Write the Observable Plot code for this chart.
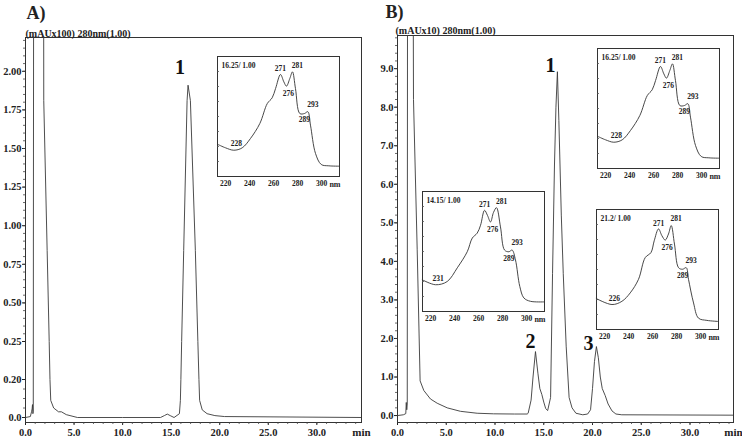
<!DOCTYPE html>
<html><head><meta charset="utf-8">
<script src="https://cdn.jsdelivr.net/npm/d3@7"></script>
<script src="https://cdn.jsdelivr.net/npm/@observablehq/plot@0.6"></script>
<style>
body{margin:0;background:#fff;}
#wrap{position:relative;width:742px;height:444px;overflow:hidden;background:#fff;}
</style></head><body><div id="wrap"></div>
<script>
// ---------- chromatogram A (mAU x100) ----------
const timeA = [0, 0.5, 0.62, 0.68, 0.72, 0.76, 0.8, 0.84, 1.86, 1.88, 2.23, 2.44, 2.52, 2.6, 2.9, 3.4, 3.7, 4.2, 5.35, 10, 13.9, 14.3, 14.6, 14.9, 15.3, 15.85, 15.95, 16.0, 16.08, 16.29, 16.64, 16.74, 16.98, 17.49, 17.75, 17.86, 17.93, 18.2, 18.7, 19.5, 20.5, 34.6];
const signalA = [0, 0.005, 0.03, 0.045, 0.068, 0.02, 0.03, 3, 3, 1.81, 0.84, 0.25, 0.2, 0.09, 0.05, 0.03, 0.03, 0.015, 0, 0, 0, 0.01, 0.018, 0.01, 0, 0.02, 0.09, 0.2, 0.25, 0.84, 1.81, 1.91, 1.81, 0.84, 0.25, 0.2, 0.09, 0.04, 0.02, 0.01, 0.005, 0];
const yTickValsA = [0, 0.2, 0.25, 0.5, 0.75, 1.0, 1.25, 1.5, 1.75, 2.0];
const yTickLabA = ["0.0", "0.20", "0.25", "0.50", "0.75", "1.00", "1.25", "1.50", "1.75", "2.00"];
const peakLabA = ["1"];
const peakIdxA = [31];

// ---------- chromatogram B (mAU x10) ----------
const timeB = [0, 0.6, 0.85, 0.9, 0.95, 1.0, 1.03, 1.6, 1.64, 2.02, 2.32, 2.7, 3.38, 4.07, 5.1, 6.46, 8.17, 9.85, 12.0, 13.3, 13.4, 13.7, 13.9, 14.15, 14.4, 14.6, 14.8, 15.0, 15.2, 15.4, 15.7, 15.9, 16.1, 16.25, 16.4, 16.55, 16.8, 17.0, 17.3, 17.6, 17.9, 18.3, 19.0, 19.5, 19.8, 20.0, 20.2, 20.4, 20.6, 20.8, 21.0, 21.3, 21.6, 22.0, 22.4, 23.0, 34.5];
const signalB = [0, 0.02, 0.05, 0.34, 0.15, 0.3, 12, 12, 8.2, 4.3, 0.9, 0.65, 0.43, 0.32, 0.2, 0.11, 0.06, 0.045, 0.04, 0.04, 0.06, 0.4, 1.0, 1.66, 1.1, 0.7, 0.55, 0.35, 0.18, 0.13, 0.47, 3.68, 6.5, 8.0, 8.92, 7.65, 5.2, 3.68, 1.8, 0.47, 0.2, 0.06, 0.02, 0.04, 0.15, 0.7, 1.4, 1.79, 1.5, 1.0, 0.7, 0.52, 0.3, 0.12, 0.04, 0.02, 0.01];
const yTickValsB = [0, 1, 2, 3, 4, 5, 6, 7, 8, 9];
const yTickLabB = ["0.0", "1.0", "2.0", "3.0", "4.0", "5.0", "6.0", "7.0", "8.0", "9.0"];
const peakLabB = ["1", "2", "3"];
const peakIdxB = [34, 23, 47];

// ---------- shared time axis ----------
const xTickVals = [0, 5, 10, 15, 20, 25, 30];
const xTickLab = ["0.0", "5.0", "10.0", "15.0", "20.0", "25.0", "30.0"];

// ---------- UV spectra ----------
const nm1625 = [213.6, 220, 226.9, 233.9, 240.8, 248.6, 254.8, 258.9, 261.7, 265.8, 268.6, 270.8, 273.6, 275.8, 278.3, 281.9, 285.8, 288.6, 290.8, 295, 299.8, 306.1, 315];
const ab1625 = [0.267, 0.239, 0.219, 0.239, 0.317, 0.442, 0.608, 0.656, 0.733, 0.85, 0.789, 0.753, 0.817, 0.872, 0.733, 0.525, 0.525, 0.54, 0.428, 0.192, 0.1, 0.089, 0.086];
const lab1625 = ["228", "271", "276", "281", "289", "293"];
const idx1625 = [2, 9, 11, 13, 16, 17];

const nm1415 = [213.1, 224.2, 233.9, 242.3, 250.6, 254.8, 258.9, 261.7, 265, 267.5, 270, 272.5, 275, 278.3, 281.7, 285.3, 288, 290.8, 294.4, 297.8, 303.3, 314.4];
const ab1415 = [0.264, 0.223, 0.25, 0.364, 0.498, 0.612, 0.653, 0.719, 0.843, 0.80, 0.746, 0.826, 0.865, 0.705, 0.512, 0.498, 0.512, 0.43, 0.209, 0.113, 0.085, 0.08];
const lab1415 = ["231", "271", "276", "281", "289", "293"];
const idx1415 = [1, 8, 10, 12, 15, 16];

const nm212 = [213.1, 226.2, 234.5, 241.4, 248.3, 253.9, 258.7, 261.4, 265, 267.8, 270.6, 273.3, 275.6, 278.3, 281.7, 285, 288.1, 290, 294.2, 298.3, 305.3, 315];
const ab212 = [0.258, 0.208, 0.235, 0.305, 0.418, 0.599, 0.641, 0.739, 0.838, 0.782, 0.745, 0.796, 0.866, 0.712, 0.515, 0.502, 0.515, 0.418, 0.221, 0.095, 0.076, 0.067];
const lab212 = ["226", "271", "276", "281", "289", "293"];
const idx212 = [1, 8, 10, 12, 15, 16];

const specTicks = [220, 240, 260, 280, 300];

// ---------- drawing ----------
const FONT = "'Liberation Serif', 'Times New Roman', serif";
const INK = "#222";
const wrap = document.getElementById("wrap");
function place(node, left, top) {
  node.style.position = "absolute";
  node.style.left = left + "px";
  node.style.top = top + "px";
  wrap.appendChild(node);
}

function chromatogram(o) {
  const fw = o.width - o.ml - o.mr, fh = 444 - o.mt - o.mb;
  const idx = d3.range(o.t.length);
  const f = o.yMap;
  const ticksU = o.yTicks.map(f);
  const marks = [
    Plot.frame({stroke: "#333", strokeWidth: 1}),
    Plot.tickX(o.xMinor, {x: d => d, insetTop: fh - 2, dy: 2, stroke: "#444", strokeWidth: 0.8}),
    Plot.tickY(o.yMinor.map(f), {y: d => d, insetRight: fw - 2, dx: -2, stroke: "#444", strokeWidth: 0.8}),
    Plot.line(idx, {x: i => o.t[i], y: i => f(o.s[i]), stroke: "#3a3a3a", strokeWidth: 0.9, clip: true}),
    Plot.text([o.title], {frameAnchor: "top-left", dx: o.titleDx, dy: o.titleDy, textAnchor: "start", lineAnchor: "middle", fontSize: 10, fontWeight: "bold", fill: INK}),
    Plot.text([o.panel], {frameAnchor: "top-left", dx: o.panelDx, dy: o.panelDy, textAnchor: "start", lineAnchor: "middle", fontSize: 18, fontWeight: "bold", fill: INK}),
    Plot.text(["min"], {frameAnchor: "bottom-right", dy: 10, textAnchor: "middle", lineAnchor: "middle", fontSize: 11, fontWeight: "bold", fill: INK})
  ];
  o.peakLab.forEach((lab, k) => {
    marks.push(Plot.text([o.peakIdx[k]], {x: i => o.t[i], y: i => f(o.s[i]), text: () => lab,
      dx: o.peakOff[k][0], dy: o.peakOff[k][1], fontSize: 20, fontWeight: "bold", fill: "#111", lineAnchor: "middle"}));
  });
  return Plot.plot({
    width: o.width, height: 444,
    marginLeft: o.ml, marginRight: o.mr, marginTop: o.mt, marginBottom: o.mb,
    style: {fontFamily: FONT, fontWeight: "bold", fontSize: "10.5px", color: INK, background: "transparent", overflow: "visible"},
    x: {domain: o.xDomain, ticks: xTickVals, tickFormat: d => xTickLab[xTickVals.indexOf(d)], tickSize: 3, tickPadding: 3, label: null},
    y: {domain: o.yDomain, ticks: ticksU,
        tickFormat: d => o.yLab[ticksU.findIndex(u => Math.abs(u - d) < 1e-6)],
        tickSize: 3, tickPadding: 1, label: null},
    marks
  });
}

// Panel A's printed axis is not uniform (0.0, 0.20, 0.25, 0.50 ...): map values piecewise onto it.
const axisA = d3.scaleLinear().domain([0, 0.2, 0.25, 2.0]).range([0, 38, 76, 346.2]);
const minorYA = [0.05, 0.1, 0.15].concat(d3.range(0.3, 2.21, 0.05));
const svgA = chromatogram({
  width: 370, ml: 25, mr: 9, mt: 37, mb: 22,
  xDomain: [0, 34.6], xMinor: d3.range(1, 35, 1), yMinor: minorYA,
  yMap: v => axisA(v), yDomain: [-5, 380],
  yTicks: yTickValsA, yLab: yTickLabA,
  t: timeA, s: signalA,
  title: "(mAUx100) 280nm(1.00)", titleDx: 0, titleDy: -4,
  panel: "A)", panelDx: 1, panelDy: -24,
  peakLab: peakLabA, peakIdx: peakIdxA, peakOff: [[-8, -18]]
});
place(svgA, 0, 0);

const svgB = chromatogram({
  width: 372, ml: 27, mr: 9, mt: 35, mb: 22,
  xDomain: [0, 34.46], xMinor: d3.range(1, 35, 1), yMinor: d3.range(0.2, 9.81, 0.2),
  yMap: v => v, yDomain: [-0.18, 9.86],
  yTicks: yTickValsB, yLab: yTickLabB,
  t: timeB, s: signalB,
  title: "(mAUx10) 280nm(1.00)", titleDx: -2, titleDy: -5,
  panel: "B)", panelDx: -12, panelDy: -23,
  peakLab: peakLabB, peakIdx: peakIdxB, peakOff: [[-7, -6], [-5, -10], [-8, -3]]
});
place(svgB, 370, 0);

const labOff = [[2.5, -6.3], [0, -5.5], [2, 7.5], [5, -6.5], [0, 6.5], [5, -7]];
function inset(nm, ab, title, labels, idx) {
  const W = 122, H = 120;
  const ii = d3.range(nm.length);
  const marks = [
    Plot.frame({fill: "white", stroke: "#333", strokeWidth: 1}),
    Plot.tickY(d3.range(0.125, 1, 0.125), {y: d => d, insetRight: W - 2, stroke: "#555", strokeWidth: 0.8}),
    Plot.line(ii, {x: i => nm[i], y: i => ab[i], curve: "catmull-rom", stroke: "#333", strokeWidth: 0.9}),
    Plot.text([title], {frameAnchor: "top-left", dx: 4, dy: 9, textAnchor: "start", lineAnchor: "middle", fontSize: 7.5, fontWeight: "bold", fill: INK}),
    Plot.text(["nm"], {frameAnchor: "bottom-right", dx: 1, dy: 8, lineAnchor: "middle", fontSize: 8, fontWeight: "bold", fill: INK})
  ];
  labels.forEach((lab, k) => {
    marks.push(Plot.text([idx[k]], {x: i => nm[i], y: i => ab[i], text: () => lab,
      dx: labOff[k][0], dy: labOff[k][1], fontSize: 7.5, fontWeight: "bold", fill: INK, lineAnchor: "middle"}));
  });
  return Plot.plot({
    width: W + 12, height: H + 16,
    marginLeft: 4, marginRight: 8, marginTop: 2, marginBottom: 14,
    style: {fontFamily: FONT, fontWeight: "bold", fontSize: "7.5px", color: INK, background: "transparent", overflow: "visible"},
    x: {domain: [213.3, 315], ticks: specTicks, tickSize: 0, tickPadding: 4, label: null},
    y: {domain: [0, 1], axis: null},
    marks
  });
}

place(inset(nm1625, ab1625, "16.25/ 1.00", lab1625, idx1625), 217 - 4, 56 - 2);
place(inset(nm1625, ab1625, "16.25/ 1.00", lab1625, idx1625), 597 - 4, 48 - 2);
place(inset(nm1415, ab1415, "14.15/ 1.00", lab1415, idx1415), 422 - 4, 191 - 2);
place(inset(nm212, ab212, "21.2/ 1.00", lab212, idx212), 596 - 4, 209 - 2);
</script></body></html>
